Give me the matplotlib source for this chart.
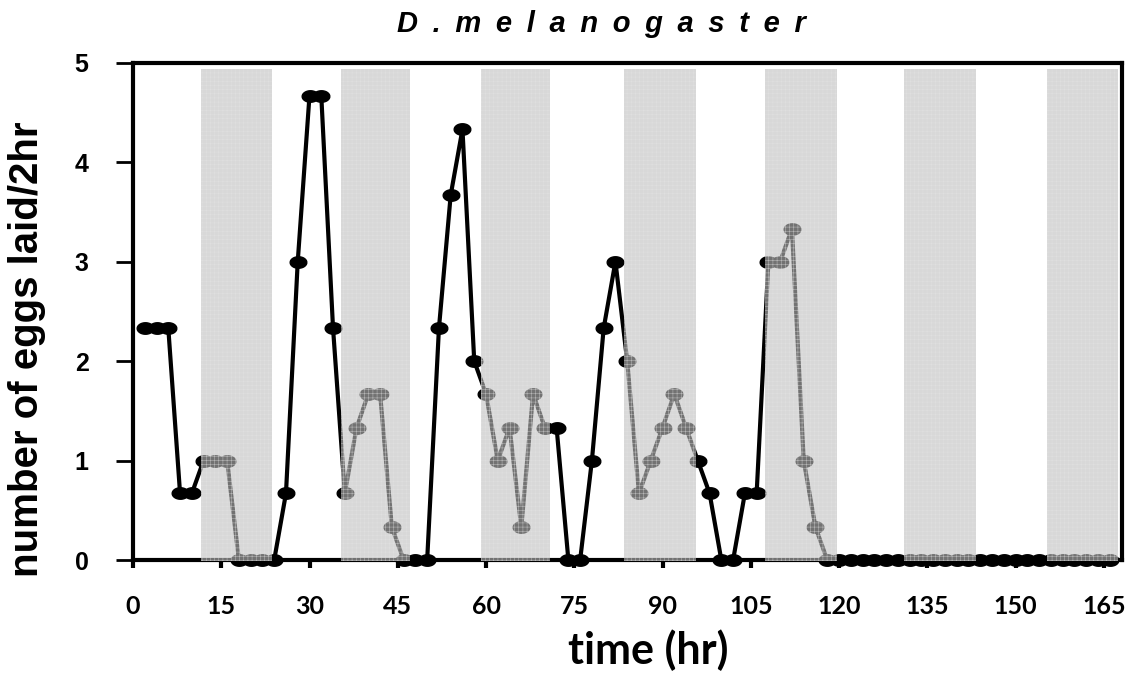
import numpy as np
import matplotlib.pyplot as plt
from matplotlib.patches import Rectangle

# egg counts every 2 hr (t = 2 ... 166)
hours = np.arange(2, 168, 2)
eggs = [2.33, 2.33, 2.33, 0.67, 0.67, 1.0, 1.0, 1.0, 0, 0, 0, 0,
        0.67, 3.0, 4.67, 4.67, 2.33, 0.67, 1.33, 1.67, 1.67, 0.33, 0, 0,
        0, 2.33, 3.67, 4.33, 2.0, 1.67, 1.0, 1.33, 0.33, 1.67, 1.33, 1.33,
        0, 0, 1.0, 2.33, 3.0, 2.0, 0.67, 1.0, 1.33, 1.67, 1.33, 1.0,
        0.67, 0, 0, 0.67, 0.67, 3.0, 3.0, 3.33, 1.0, 0.33, 0, 0,
        0, 0, 0, 0, 0, 0, 0, 0, 0, 0, 0, 0,
        0, 0, 0, 0, 0, 0, 0, 0, 0, 0, 0]

# dark phases (start, end) in hr
dark_start = [11.6, 35.3, 59.1, 83.5, 107.4, 131.0, 155.3]
dark_end = [23.7, 47.1, 70.9, 95.7, 119.6, 143.3, 167.4]

xticks = [0, 15, 30, 45, 60, 75, 90, 105, 120, 135, 150, 165]
yticks = [0, 1, 2, 3, 4, 5]

plt.rcParams['hatch.linewidth'] = 0.4

W, H = 1138, 677
fig = plt.figure(figsize=(W / 100, H / 100), dpi=100)
ax = fig.add_axes([133 / W, 1 - 560 / H, (1122 - 133) / W, (560 - 62.7) / H])

# ellipse marker, wider than tall like the excel one
th = np.linspace(0, 2 * np.pi, 40)
ell = np.column_stack([1.45 * np.cos(th), np.sin(th)])

ax.plot(hours, eggs, color='black', lw=3, marker=ell, markersize=12,
        markerfacecolor='black', markeredgecolor='black', clip_on=False, zorder=2)

# grey shading drawn over the line
for s, e in zip(dark_start, dark_end):
    r = Rectangle((s, -0.01), e - s, 4.95, facecolor='#bfbfbf', alpha=0.6,
                  edgecolor='#e4e4e4', lw=0, hatch='++++', zorder=4, clip_on=False)
    ax.add_patch(r)

ax.set_xlim(0, 168.1)
ax.set_ylim(0, 5)

for sp in ax.spines.values():
    sp.set_linewidth(3)
    sp.set_zorder(3)

ax.set_xticks(xticks)
ax.set_yticks(yticks)
ax.set_xticklabels([str(v) for v in xticks], family='Lato', weight='bold', fontsize=18)
ax.set_yticklabels([str(v) for v in yticks], family='Liberation Sans', weight='bold', fontsize=18)
ax.tick_params(axis='x', direction='out', length=6, width=3, pad=19)
ax.tick_params(axis='y', direction='out', length=12, width=2, pad=20)

sp2 = '\u2002'
title = sp2.join(['D', '.', 'm', 'e', 'l', 'a', 'n', 'o', 'g', 'a', 's', 't', 'e', 'r'])
fig.text(601 / W, 1 - 24 / H, title, ha='center', va='center',
         family=['Liberation Sans', 'DejaVu Sans'], style='italic', weight='bold', fontsize=21)
fig.text(648 / W, 1 - 650 / H, 'time (hr)', ha='center', va='center',
         family='Lato', weight='bold', fontsize=31)
fig.text(27 / W, 1 - 349 / H, 'number of eggs laid/2hr', ha='center', va='center',
         rotation=90, family='Liberation Sans', weight='bold', fontsize=29)

fig.savefig('out.png', dpi=100)
